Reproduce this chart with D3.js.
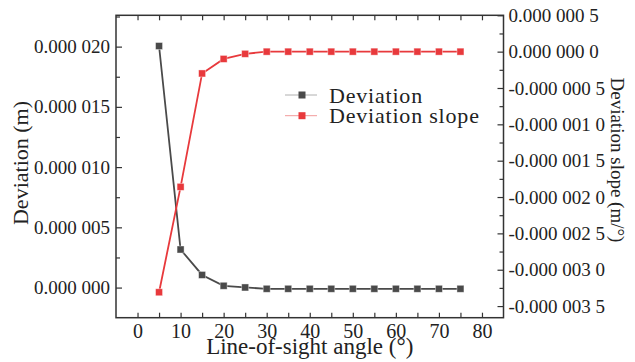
<!DOCTYPE html>
<html>
<head>
<meta charset="utf-8">
<script src="https://cdn.jsdelivr.net/npm/d3@7"></script>
<style>
    body { margin: 0; background: #fff; }
    text { font-family: "Liberation Serif", "Times New Roman", serif; fill: #222; }
</style>
</head>
<body>
<div id="chart"></div>
<script>
// line-of-sight angle (deg)
var angles = [5, 10, 15, 20, 25, 30, 35, 40, 45, 50, 55, 60, 65, 70, 75];
// deviation (m)
var deviation = [0.00002005, 0.00000316, 0.00000105, 0.00000015, 0.00000001,
    -0.0000001, -0.0000001, -0.0000001, -0.0000001, -0.0000001,
    -0.0000001, -0.0000001, -0.0000001, -0.0000001, -0.0000001];
// deviation slope (m/deg)
var slope = [-0.00000331, -0.00000186, -0.0000003, -0.0000001, -0.00000003,
    0, 0, 0, 0, 0, 0, 0, 0, 0, 0];

var xTicks = [0, 10, 20, 30, 40, 50, 60, 70, 80];
var leftTicks = [0, 0.000005, 0.00001, 0.000015, 0.00002];
var rightTicks = [-0.0000035, -0.000003, -0.0000025, -0.000002, -0.0000015, -0.000001, -0.0000005, 0, 0.0000005];
var seriesNames = ["Deviation", "Deviation slope"];

var SlopeChart = (function () {
    "use strict";

    var width = 635, height = 362;
    var frame = { left: 116, right: 503.5, top: 15.3, bottom: 317.7 };
    var grey = "#4a4a4a", red = "#e8393c";

    // 0.000020 -> "0.000 020"
    var spaced = function (digits) {
        return function (v) {
            var s = Math.abs(v) < 1e-12 ? (0).toFixed(digits) : v.toFixed(digits);
            var parts = s.split(".");
            return parts[0] + "." + parts[1].replace(/(\d{3})(?=\d)/g, "$1 ");
        };
    };

    var draw = function () {
        var svg = d3.select("#chart")
            .append("svg")
            .attr("width", width)
            .attr("height", height);

        var x = d3.scaleLinear().domain([-5, 85]).range([frame.left, frame.right]);
        var yL = d3.scaleLinear().domain([-0.0000025, 0.0000226]).range([frame.bottom, frame.top]);
        var yR = d3.scaleLinear().domain([-0.00000366, 0.0000005]).range([frame.bottom, frame.top]);

        var styleAxis = function (g, size) {
            g.selectAll("path").remove();
            g.selectAll("line").attr("stroke", "#333").attr("stroke-width", 1.2);
            if (size) {
                g.selectAll("text").style("font-size", size).attr("fill", "#222");
            } else {
                g.selectAll("text").remove();
            }
        };

        var half = function (ticks, step) {
            return ticks.slice(1).map(function (d) { return d - step; });
        };

        // bottom
        svg.append("g")
            .attr("transform", "translate(0," + frame.bottom + ")")
            .call(d3.axisBottom(x).tickValues(xTicks).tickSize(-5).tickPadding(6))
            .call(styleAxis, "20px");
        svg.append("g")
            .attr("transform", "translate(0," + frame.bottom + ")")
            .call(d3.axisBottom(x).tickValues(half(xTicks, 5)).tickSize(-5))
            .call(styleAxis, null);

        // top
        svg.append("g")
            .attr("transform", "translate(0," + frame.top + ")")
            .call(d3.axisTop(x).tickValues(xTicks.concat(half(xTicks, 5))).tickSize(-5))
            .call(styleAxis, null);

        // left
        svg.append("g")
            .attr("transform", "translate(" + frame.left + ",0)")
            .call(d3.axisLeft(yL).tickValues(leftTicks).tickSize(-6).tickPadding(6).tickFormat(spaced(6)))
            .call(styleAxis, "19px");
        svg.append("g")
            .attr("transform", "translate(" + frame.left + ",0)")
            .call(d3.axisLeft(yL).tickValues(half(leftTicks, 0.0000025).concat([0.0000225])).tickSize(-4))
            .call(styleAxis, null);

        // right
        svg.append("g")
            .attr("transform", "translate(" + frame.right + ",0)")
            .call(d3.axisRight(yR).tickValues(rightTicks).tickSize(-6).tickPadding(5).tickFormat(spaced(7)))
            .call(styleAxis, "19px");
        svg.append("g")
            .attr("transform", "translate(" + frame.right + ",0)")
            .call(d3.axisRight(yR).tickValues(half(rightTicks, 0.00000025)).tickSize(-4))
            .call(styleAxis, null);

        // frame
        svg.append("rect")
            .attr("x", frame.left)
            .attr("y", frame.top)
            .attr("width", frame.right - frame.left)
            .attr("height", frame.bottom - frame.top)
            .attr("fill", "none")
            .attr("stroke", "#333")
            .attr("stroke-width", 1.5);

        // axis titles
        svg.append("text")
            .attr("x", (frame.left + frame.right) / 2)
            .attr("y", 354)
            .attr("text-anchor", "middle")
            .style("font-size", "23px")
            .text("Line-of-sight angle (°)");

        svg.append("text")
            .attr("transform", "translate(28,163) rotate(-90)")
            .attr("text-anchor", "middle")
            .style("font-size", "22px")
            .text("Deviation (m)");

        svg.append("text")
            .attr("transform", "translate(611,160) rotate(90)")
            .attr("text-anchor", "middle")
            .style("font-size", "19px")
            .text("Deviation slope (m/°)");

        // series
        var series = [
            { values: deviation, y: yL, color: grey },
            { values: slope, y: yR, color: red }
        ];

        series.forEach(function (s) {
            var pts = angles.map(function (a, i) { return [a, s.values[i]]; });
            svg.append("path")
                .datum(pts)
                .attr("fill", "none")
                .attr("stroke", s.color)
                .attr("stroke-width", 1.8)
                .attr("d", d3.line()
                    .x(function (d) { return x(d[0]); })
                    .y(function (d) { return s.y(d[1]); }));

            svg.append("g")
                .selectAll("rect")
                .data(pts)
                .enter()
                .append("rect")
                .attr("x", function (d) { return x(d[0]) - 3.5; })
                .attr("y", function (d) { return s.y(d[1]) - 3.5; })
                .attr("width", 7)
                .attr("height", 7)
                .attr("fill", s.color)
                .attr("stroke", "#fff")
                .attr("stroke-opacity", 0.5)
                .attr("stroke-width", 0.8);
        });

        // legend
        var legend = svg.append("g").selectAll("g")
            .data(seriesNames)
            .enter()
            .append("g")
            .attr("transform", function (d, i) { return "translate(285," + (95 + i * 20.7) + ")"; });

        legend.append("line")
            .attr("x1", 0)
            .attr("x2", 32)
            .attr("stroke", function (d, i) { return i === 0 ? "#b0b0b0" : "#f29a9b"; })
            .attr("stroke-width", 1);

        legend.append("rect")
            .attr("x", 13.5)
            .attr("y", -3.5)
            .attr("width", 7)
            .attr("height", 7)
            .attr("fill", function (d, i) { return i === 0 ? grey : red; });

        legend.append("text")
            .attr("x", 44)
            .attr("y", 7.5)
            .style("font-size", "22px")
            .style("letter-spacing", "0.8px")
            .text(function (d) { return d; });
    };

    return { draw: draw };
})();

SlopeChart.draw();
</script>
</body>
</html>
